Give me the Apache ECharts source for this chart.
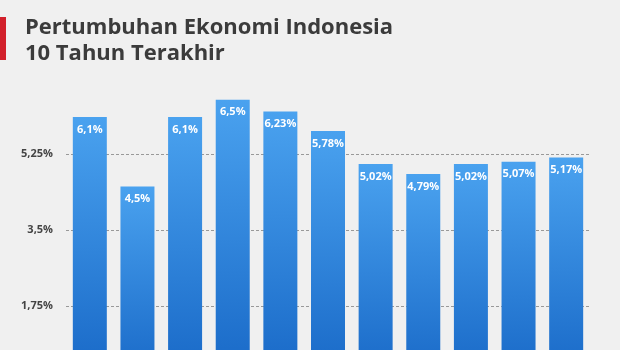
<!DOCTYPE html>
<html><head><meta charset="utf-8">
<script src="https://cdn.jsdelivr.net/npm/echarts@6/dist/echarts.min.js"></script>
<style>html,body{margin:0;padding:0;background:#f0f0f0;overflow:hidden;width:620px;height:350px}#c{width:620px;height:382px}</style>
</head><body><div id="c"></div>
<script>
const categories = ['2008','2009','2010','2011','2012','2013','2014','2015','2016','2017','2018'];
const growth = [6.1, 4.5, 6.1, 6.5, 6.23, 5.78, 5.02, 4.79, 5.02, 5.07, 5.17];
const yTicks = [0, 1.75, 3.5, 5.25, 7];
const titleLines = ['Pertumbuhan Ekonomi Indonesia', '10 Tahun Terakhir'];

const fmt = v => String(v).replace('.', ',') + '%';
const chart = echarts.init(document.getElementById('c'), null, {renderer: 'canvas', width: 620, height: 382});
chart.setOption({
  backgroundColor: '#f0f0f0',
  animation: false,
  title: {
    text: titleLines.join('\n'),
    left: 20, top: 10,
    textStyle: {fontFamily: 'Open Sans', fontWeight: 700, fontSize: 22, color: '#3b3b3b', lineHeight: 26}
  },
  graphic: [{type: 'rect', left: 0, top: 17, shape: {width: 6, height: 43}, style: {fill: '#d2202b'}}],
  grid: {left: 66, right: 30, top: 78, bottom: 0, outerBoundsMode: 'none', containLabel: false},
  xAxis: {
    type: 'category', data: categories,
    axisLine: {show: false}, axisTick: {show: false}, axisLabel: {show: false}
  },
  yAxis: {
    type: 'value', min: yTicks[0], max: yTicks[yTicks.length - 1], interval: yTicks[1],
    axisLine: {show: false}, axisTick: {show: false},
    axisLabel: {
      showMaxLabel: false, showMinLabel: false, margin: 13,
      formatter: v => fmt(v),
      fontFamily: 'Open Sans', fontWeight: 700, fontSize: 11, color: '#444'
    },
    splitLine: {showMaxLine: false, lineStyle: {color: '#999999', type: [3, 2], width: 1}}
  },
  series: [{
    type: 'bar', data: growth, barWidth: 34,
    itemStyle: {
      color: new echarts.graphic.LinearGradient(0, 0, 0, 1, [
        {offset: 0, color: '#4aa2ef'},
        {offset: 1, color: '#1767c6'}
      ])
    },
    label: {
      show: true, position: 'insideTop', distance: 7,
      formatter: p => fmt(p.value),
      fontFamily: 'Open Sans', fontWeight: 700, fontSize: 11, color: '#ffffff'
    }
  }]
});
</script></body></html>
